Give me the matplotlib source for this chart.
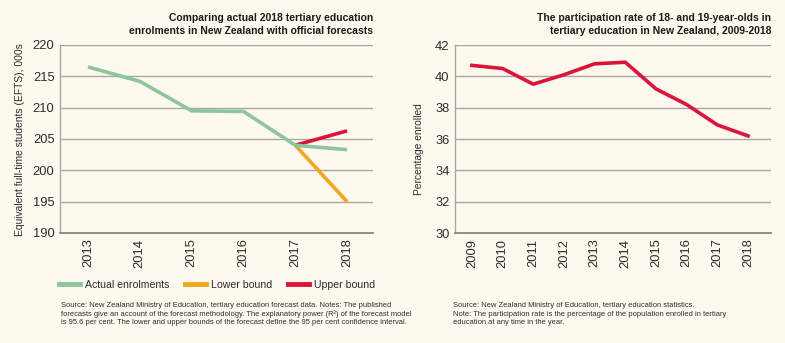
import matplotlib
matplotlib.use('Agg')
import matplotlib.pyplot as plt
from matplotlib.lines import Line2D

# left chart: enrolments (EFTS, 000s)
years_l = [2013, 2014, 2015, 2016, 2017, 2018]
actual = [216.5, 214.2, 209.5, 209.4, 204.0, 203.3]
fc_years = [2017, 2018]
lower = [204.0, 195.0]
upper = [204.0, 206.3]
yticks_l = [190, 195, 200, 205, 210, 215, 220]

# right chart: participation rate (%)
years_r = [2009, 2010, 2011, 2012, 2013, 2014, 2015, 2016, 2017, 2018]
rate = [40.7, 40.5, 39.5, 40.1, 40.8, 40.9, 39.2, 38.2, 36.9, 36.2]
yticks_r = [30, 32, 34, 36, 38, 40, 42]

bg = '#fdf9ef'
green = '#8cc59e'
orange = '#f2a71b'
red = '#dc1439'
grid_c = '#a9a7a3'
txt = '#2b2b2b'

plt.rcParams['font.family'] = ['Liberation Sans', 'DejaVu Sans']

fig = plt.figure(figsize=(7.85, 3.43), dpi=100, facecolor=bg)
W, H = 785, 343


def add_ax(x0, x1, y0, y1):
    return fig.add_axes([x0 / W, 1 - y1 / H, (x1 - x0) / W, (y1 - y0) / H])


def style(ax, yticks):
    ax.set_facecolor(bg)
    for s in ['top', 'right']:
        ax.spines[s].set_visible(False)
    ax.spines['left'].set_color(grid_c)
    ax.spines['left'].set_linewidth(1.0)
    ax.spines['bottom'].set_color('#8a8884')
    ax.spines['bottom'].set_linewidth(1.3)
    ax.set_yticks(yticks)
    ax.set_ylim(yticks[0], yticks[-1])
    ax.yaxis.grid(True, color=grid_c, linewidth=1.0)
    ax.set_axisbelow(True)
    ax.tick_params(axis='both', length=0, labelsize=9.3, colors=txt, pad=4)
    ax.tick_params(axis='x', rotation=90)


ax1 = add_ax(60, 373, 45, 233)
style(ax1, yticks_l)
ax1.plot(fc_years, upper, color=red, lw=2.6, solid_capstyle='butt')
ax1.plot(fc_years, lower, color=orange, lw=2.6, solid_capstyle='butt')
ax1.plot(years_l, actual, color=green, lw=2.6, solid_capstyle='butt')
ax1.set_xticks(years_l)
ax1.set_xlim(2012.46, 2018.5)
ax1.set_ylabel('Equivalent full-time students (EFTS), 000s', fontsize=7.4,
               color=txt, va='center')
ax1.yaxis.set_label_coords(-0.128, 0.495)
ax1.text(1.0, 1.05, 'Comparing actual 2018 tertiary education\n'
         'enrolments in New Zealand with official forecasts',
         transform=ax1.transAxes, ha='right', va='bottom', fontsize=7.5,
         fontweight='bold', color='#1a1a1a', linespacing=1.3)

handles = [Line2D([], [], color=green, lw=3.5),
           Line2D([], [], color=orange, lw=3.5),
           Line2D([], [], color=red, lw=3.5)]
fig.legend(handles, ['Actual enrolments', 'Lower bound', 'Upper bound'],
           loc='center', bbox_to_anchor=(217 / W, 1 - 285 / H), ncol=3,
           frameon=False, fontsize=7.6, handlelength=2.0, handletextpad=0.45,
           columnspacing=1.5, labelcolor=txt)

fig.text(61 / W, 1 - 314 / H,
         'Source: New Zealand Ministry of Education, tertiary education forecast data. '
         'Notes: The published\nforecasts give an account of the forecast methodology. '
         'The explanatory power (R²) of the forecast model\nis 95.6 per cent. '
         'The lower and upper bounds of the forecast define the 95 per cent confidence interval.',
         ha='left', va='center', fontsize=5.45, color=txt, linespacing=1.25)

ax2 = add_ax(455, 771, 45, 233)
style(ax2, yticks_r)
ax2.plot(years_r, rate, color=red, lw=2.6, solid_joinstyle='round')
ax2.set_xticks(years_r)
ax2.set_xlim(2008.45, 2018.75)
ax2.set_ylabel('Percentage enrolled', fontsize=7.4, color=txt, va='center')
ax2.yaxis.set_label_coords(-0.114, 0.447)
ax2.text(1.0, 1.05, 'The participation rate of 18- and 19-year-olds in\n'
         'tertiary education in New Zealand, 2009-2018',
         transform=ax2.transAxes, ha='right', va='bottom', fontsize=7.5,
         fontweight='bold', color='#1a1a1a', linespacing=1.3)

fig.text(453 / W, 1 - 314 / H,
         'Source: New Zealand Ministry of Education, tertiary education statistics.\n'
         'Note: The participation rate is the percentage of the population enrolled in tertiary\n'
         'education at any time in the year.',
         ha='left', va='center', fontsize=5.45, color=txt, linespacing=1.25)

fig.savefig('out.png', dpi=100, facecolor=bg)
